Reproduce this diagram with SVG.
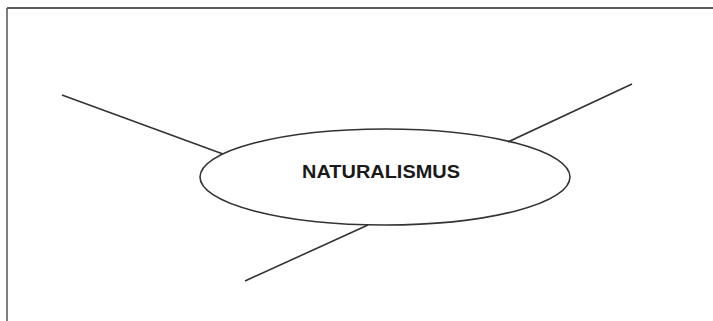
<svg xmlns="http://www.w3.org/2000/svg" width="713" height="321" viewBox="0 0 713 321">
<style>
.ln{stroke:#333;stroke-width:1.6;fill:none}
.lbl{font-family:"Liberation Sans",Arial,sans-serif;font-weight:bold;font-size:18px;fill:#1a1a1a}
</style>
<rect width="713" height="321" fill="#fff"/>
<g id="frame">
<line x1="7" y1="8" x2="713" y2="8" stroke="#222" stroke-width="1.5"/>
<line x1="7" y1="8" x2="7" y2="321" stroke="#555" stroke-width="1.5"/>
</g>
<g id="connectors">
<line class="ln" x1="62" y1="95" x2="223" y2="154"/>
<line class="ln" x1="632" y1="84" x2="508" y2="142"/>
<line class="ln" x1="245" y1="281" x2="368" y2="225"/>
</g>
<g id="node-naturalismus">
<ellipse class="ln" cx="385" cy="177" rx="185" ry="48"/>
<text class="lbl" x="302" y="178" textLength="158" lengthAdjust="spacingAndGlyphs">NATURALISMUS</text>
</g>
</svg>
